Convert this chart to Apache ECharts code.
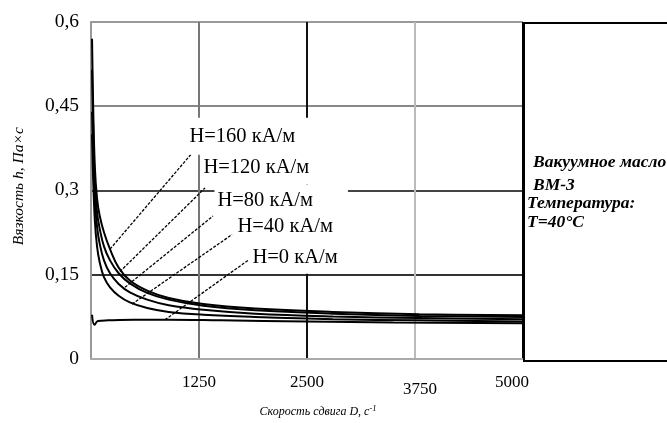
<!DOCTYPE html>
<html>
<head>
<meta charset="utf-8">
<script src="https://cdn.jsdelivr.net/npm/echarts@6/dist/echarts.min.js"></script>
<style type="text/css">
html,body{margin:0;padding:0;background:#fff}
#chart_main{width:667px;height:423px}
</style>
</head>
<body>
<div id="chart_main"></div>
<script type="text/javascript">
// скорость сдвига D, c^-1
var shear = [12, 25, 45, 70, 100, 150, 220, 320, 450, 650, 900, 1300, 1900, 2800, 3800, 5000];
// вязкость, Па·с
var visc160 = [0.57, 0.45, 0.34, 0.285, 0.255, 0.225, 0.195, 0.162, 0.139, 0.121, 0.108, 0.097, 0.089, 0.083, 0.079, 0.077];
var visc120 = [0.515, 0.41, 0.31, 0.26, 0.232, 0.2, 0.175, 0.152, 0.134, 0.117, 0.105, 0.094, 0.086, 0.08, 0.076, 0.074];
var visc80 = [0.44, 0.36, 0.28, 0.235, 0.205, 0.175, 0.152, 0.133, 0.118, 0.105, 0.095, 0.087, 0.08, 0.075, 0.072, 0.07];
var visc40 = [0.40, 0.32, 0.245, 0.2, 0.172, 0.145, 0.127, 0.112, 0.1, 0.09, 0.083, 0.078, 0.074, 0.07, 0.068, 0.066];
var shear0 = [12, 40, 80, 200, 500, 900, 1500, 2500, 3500, 5000];
var visc0 = [0.078, 0.06, 0.067, 0.068, 0.069, 0.069, 0.068, 0.066, 0.064, 0.063];

var names = ['H=160 кА/м', 'H=120 кА/м', 'H=80 кА/м', 'H=40 кА/м', 'H=0 кА/м'];
// выноски: точка на кривой -> точка подписи
var leaderFrom = [[220, 0.195], [335, 0.155], [393, 0.127], [475, 0.097], [856, 0.069]];
var leaderTo = [[1157, 0.364], [1319, 0.304], [1412, 0.254], [1632, 0.221], [1817, 0.175]];
var labelOffset = [[-5, -18], [-5, -20], [1, -15], [2, -8], [1, -3]];
var labelPadding = [[6, 35, 10, 3], [6, 35, 6, 3], [6, 35, 6, 3], [6, 35, 6, 3], [6, 35, 6, 3]];

var xTicks = [0, 1250, 2500, 3750, 5000];
var yTicks = ['0', '0,15', '0,3', '0,45', '0,6'];

var serif = '"Liberation Serif", "DejaVu Serif", serif';

function pairs(xs, ys){
	var r = [];
	for(var i=0;i<xs.length;i++){ r.push([xs[i], ys[i]]); }
	return r;
}

var curves = [pairs(shear, visc160), pairs(shear, visc120), pairs(shear, visc80), pairs(shear, visc40), pairs(shear0, visc0)];
var series_data = [];
for(var i=0;i<curves.length;i++){
	series_data.push({
		name: names[i],
		type: 'line',
		data: curves[i],
		smooth: 0.4,
		symbol: 'none',
		lineStyle: {color: '#000', width: 2},
		markLine: {
			silent: true,
			symbol: 'none',
			label: {show: false},
			lineStyle: {color: '#000', width: 1.3, type: [3, 1.5]},
			data: [[{coord: leaderFrom[i]}, {coord: leaderTo[i]}]]
		},
		markPoint: {
			silent: true,
			symbol: 'circle',
			symbolSize: 1,
			itemStyle: {color: 'rgba(0,0,0,0)'},
			label: {
				show: true,
				position: 'right',
				distance: 0,
				offset: labelOffset[i],
				formatter: names[i],
				fontFamily: serif,
				fontSize: 20.5,
				color: '#000',
				backgroundColor: '#fff',
				padding: labelPadding[i]
			},
			data: [{coord: leaderTo[i]}]
		},
		z: 3 + i
	});
}

var myChart = echarts.init(document.getElementById('chart_main'));
var option = {
	animation: false,
	backgroundColor: '#fff',
	grid: {left: 91, right: 144, top: 22, bottom: 61},
	xAxis: {
		type: 'value',
		min: 0, max: 5000, interval: 1250,
		name: 'Скорость сдвига D, с{s|-1}',
		nameLocation: 'middle',
		nameGap: 46,
		nameTextStyle: {
			fontFamily: serif, fontStyle: 'italic', fontSize: 12, color: '#000',
			padding: [0, 0, 0, 22],
			rich: {s: {fontFamily: serif, fontStyle: 'italic', fontSize: 8.5, verticalAlign: 'top', padding: [0, 0, 6, 0]}}
		},
		axisLine: {show: true, lineStyle: {color: '#aaa', width: 2}},
		axisTick: {show: false},
		axisLabel: {
			margin: 16,
			fontFamily: serif, fontSize: 17, color: '#000',
			formatter: function(v){
				if(v === xTicks[0]) return '';
				if(v === xTicks[3]) return '{low|' + v + '}';
				if(v === xTicks[4]) return '{end|' + v + '}';
				return v;
			},
			rich: {
				low: {fontFamily: serif, fontSize: 17, color: '#000', padding: [7, 0, 0, 10]},
				end: {fontFamily: serif, fontSize: 17, color: '#000', padding: [0, 22, 0, 0]}
			}
		},
		splitLine: {show: true, lineStyle: {color: ['#aaa', '#777', '#111', '#bbb', '#000'], width: 2}}
	},
	yAxis: {
		type: 'value',
		min: 0, max: 0.6, interval: 0.15,
		name: 'Вязкость h, Па×с',
		nameLocation: 'middle',
		nameGap: 64,
		nameTextStyle: {fontFamily: serif, fontStyle: 'italic', fontSize: 15.5, color: '#000', padding: [0, 0, 0, 8]},
		axisLine: {show: true, lineStyle: {color: '#999', width: 2}},
		axisTick: {show: false},
		axisLabel: {
			margin: 12,
			fontFamily: serif, fontSize: 19.5, color: '#000',
			formatter: function(v){ return yTicks[Math.round(v / 0.15)]; }
		},
		splitLine: {show: true, lineStyle: {color: ['#aaa', '#333', '#444', '#888', '#999'], width: 2}}
	},
	graphic: [
		{type: 'rect', left: 523, top: 22, shape: {width: 160, height: 338}, style: {fill: '#fff', stroke: '#000', lineWidth: 2}, z: 10},
		{type: 'text', left: 533, top: 153, style: {text: 'Вакуумное масло', font: 'italic bold 17.5px ' + serif, fill: '#000'}, z: 11},
		{type: 'text', left: 533, top: 176, style: {text: 'ВМ-3', font: 'italic bold 17.5px ' + serif, fill: '#000'}, z: 11},
		{type: 'text', left: 527, top: 194, style: {text: 'Температура:', font: 'italic bold 17.5px ' + serif, fill: '#000'}, z: 11},
		{type: 'text', left: 527, top: 213, style: {text: 'T=40°C', font: 'italic bold 17.5px ' + serif, fill: '#000'}, z: 11}
	],
	series: series_data
};
myChart.setOption(option);
</script>
</body>
</html>
